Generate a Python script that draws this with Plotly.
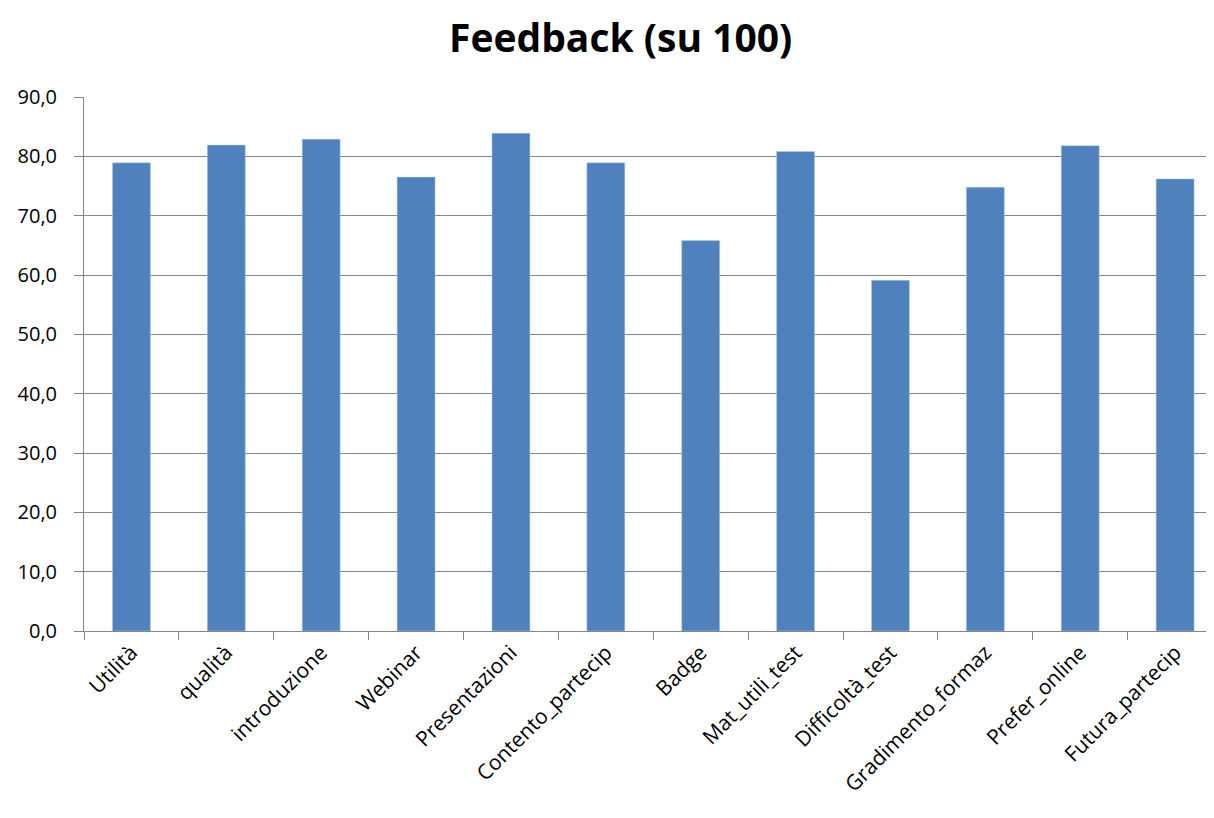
import plotly.graph_objects as go

categories = ["Utilità", "qualità", "introduzione", "Webinar", "Presentazioni",
              "Contento_partecip", "Badge", "Mat_utili_test", "Difficoltà_test",
              "Gradimento_formaz", "Prefer_online", "Futura_partecip"]
values = [78.9, 81.9, 82.9, 76.5, 83.9, 78.9, 65.8, 80.8, 59.1, 74.8, 81.8, 76.2]
y_ticks = [0, 10, 20, 30, 40, 50, 60, 70, 80, 90]

fig = go.Figure()
fig.add_trace(go.Bar(
    x=categories, y=values,
    marker=dict(color="#4F81BD", line=dict(color="#B9CDE5", width=0.5)),
    width=0.4,
))

fig.update_layout(
    width=1206, height=802,
    paper_bgcolor="white", plot_bgcolor="white",
    margin=dict(l=76, r=0, t=89, b=179),
    separators=",.",
    showlegend=False,
    title=dict(text="<b>Feedback (su 100)</b>", x=0.508, xanchor="center",
               y=0.9626, yanchor="middle",
               font=dict(family="Open Sans", size=39, color="black")),
    font=dict(family="Open Sans", color="black"),
)
fig.update_xaxes(
    type="category", range=[-0.5, 11.41],
    tickangle=-45, tickfont=dict(size=21, family="Open Sans", color="black"),
    showline=True, linecolor="#868686", linewidth=1,
    ticks="outside", ticklen=8, tickcolor="#868686", tickson="boundaries",
    showgrid=False,
)
fig.update_yaxes(
    range=[0, 90], tickvals=y_ticks, tickformat=".1f",
    tickfont=dict(size=20, family="Open Sans", color="black"),
    showline=True, linecolor="#868686", linewidth=1,
    ticks="outside", ticklen=9, tickcolor="#868686",
    ticklabelstandoff=13,
    showgrid=True, gridcolor="#868686", gridwidth=1,
    zeroline=False,
)

fig.write_html("out.html")
